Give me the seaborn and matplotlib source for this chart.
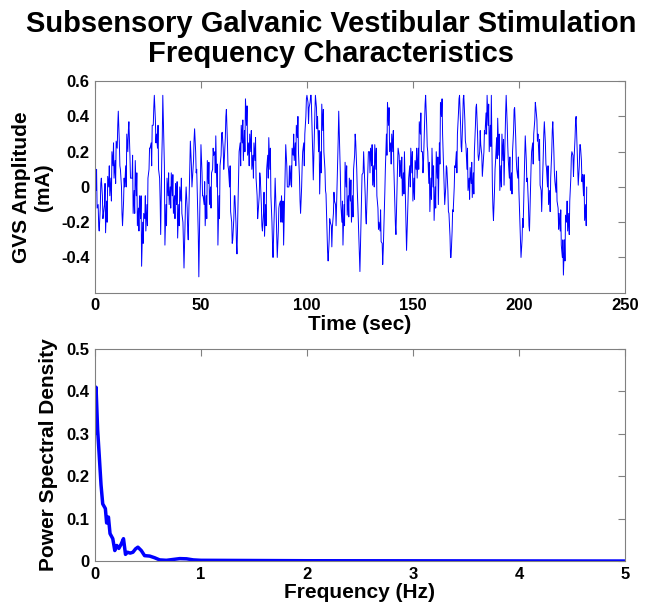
import numpy as np
import pandas as pd
import matplotlib
matplotlib.use("Agg")
import matplotlib.pyplot as plt
import seaborn as sns

# GVS signal: values on whole seconds (0..232 s)
gvs_mA = [
    0.08, -0.12, -0.25, 0.05, -0.15, -0.26, 0.06, -0.05, 0.20, 0.05,
    0.26, 0.43, 0.10, -0.22, 0.00, 0.30, 0.37, 0.05, -0.15, 0.15,
    -0.22, -0.05, -0.45, -0.15, -0.25, 0.05, 0.22, 0.35, 0.52, 0.30,
    0.10, -0.27, 0.52, -0.33, 0.05, -0.10, 0.08, -0.15, 0.02, -0.29,
    0.00, -0.15, -0.46, 0.00, -0.30, 0.26, 0.05, 0.33, 0.10, -0.51,
    0.24, -0.05, -0.22, 0.15, -0.10, 0.08, 0.18, 0.29, -0.33, 0.12,
    0.31, 0.15, 0.44, 0.10, -0.14, -0.30, -0.05, -0.38, 0.20, 0.35,
    0.15, 0.50, 0.18, 0.30, 0.10, 0.25, 0.05, -0.14, 0.05, -0.25,
    -0.28, 0.10, 0.28, -0.05, -0.40, 0.05, -0.40, -0.10, -0.05, -0.33,
    0.24, 0.00, 0.01, 0.22, 0.15, 0.35, 0.20, -0.15, 0.20, 0.30,
    0.52, 0.45, 0.52, 0.04, 0.52, 0.40, -0.04, 0.47, 0.20, -0.04,
    -0.42, -0.20, -0.23, -0.08, -0.10, 0.43, -0.10, -0.33, 0.14, -0.16,
    0.05, -0.20, 0.10, 0.26, -0.10, -0.48, 0.07, 0.12, -0.21, 0.20,
    0.22, 0.01, 0.24, -0.05, -0.20, -0.31, -0.36, 0.10, 0.48, 0.20,
    0.30, 0.11, -0.27, 0.22, 0.15, -0.05, 0.20, -0.36, 0.05, 0.22,
    -0.08, 0.15, 0.05, 0.37, 0.20, 0.14, 0.52, 0.20, -0.14, 0.22,
    -0.19, 0.20, -0.10, 0.48, 0.30, -0.10, 0.11, -0.15, -0.40, -0.14,
    0.11, 0.30, 0.52, 0.20, 0.52, 0.24, -0.02, 0.11, -0.06, 0.20,
    0.47, 0.15, 0.24, 0.11, 0.30, 0.52, 0.20, 0.52, -0.19, 0.15,
    0.39, -0.02, 0.30, 0.01, 0.52, 0.15, -0.02, 0.20, 0.45, 0.10,
    -0.02, -0.40, -0.23, 0.29, 0.05, -0.25, 0.20, 0.30, 0.45, 0.30,
    0.01, -0.04, 0.37, 0.11, -0.10, 0.05, 0.37, 0.03, -0.08, -0.15,
    -0.33, -0.50, -0.16, -0.25, -0.08, 0.20, 0.15, 0.40, 0.01, 0.24,
    0.07, -0.19, 0.00,
]
time_sec = list(range(len(gvs_mA)))

# band centre of the signal read on the half seconds (0.5..231.5 s)
gvs_half_mA = [
    -0.02, -0.10, -0.12, -0.05, -0.10, -0.08, 0.00, 0.05, 0.12, 0.15,
    0.22, 0.25, 0.00, -0.08, 0.12, 0.20, 0.18, 0.05, -0.02, -0.05,
    -0.12, -0.18, -0.20, -0.18, -0.10, 0.10, 0.25, 0.35, 0.38, 0.22,
    0.05, 0.15, 0.25, -0.10, -0.05, 0.00, -0.05, -0.05, -0.10, -0.10,
    -0.08, -0.20, -0.20, -0.12, 0.00, 0.12, 0.15, 0.20, -0.15, -0.10,
    0.08, -0.10, -0.05, 0.02, 0.00, 0.10, 0.20, 0.00, -0.05, 0.18,
    0.22, 0.28, 0.25, 0.00, -0.20, -0.18, -0.20, -0.10, 0.25, 0.25,
    0.32, 0.35, 0.25, 0.20, 0.18, 0.15, -0.05, -0.05, -0.10, -0.15,
    -0.10, 0.18, 0.10, -0.20, -0.20, -0.15, -0.25, -0.08, -0.20, -0.05,
    0.12, 0.00, 0.12, 0.18, 0.25, 0.28, 0.05, 0.00, 0.25, 0.40,
    0.48, 0.48, 0.30, 0.30, 0.45, 0.20, 0.20, 0.32, 0.10, -0.25,
    -0.30, -0.22, -0.15, -0.10, 0.15, 0.20, -0.20, -0.10, 0.00, -0.05,
    -0.08, -0.05, 0.18, 0.10, -0.30, -0.20, 0.08, -0.05, 0.00, 0.20,
    0.12, 0.12, 0.10, -0.12, -0.25, -0.32, -0.15, 0.30, 0.35, 0.25,
    0.20, -0.10, 0.00, 0.18, 0.05, 0.08, -0.10, -0.15, 0.12, 0.08,
    0.05, 0.10, 0.22, 0.30, 0.20, 0.35, 0.35, 0.02, 0.05, 0.00,
    0.00, 0.05, 0.25, 0.40, 0.10, 0.00, -0.02, -0.28, -0.25, 0.00,
    0.20, 0.42, 0.35, 0.38, 0.38, 0.10, 0.05, 0.02, 0.08, 0.35,
    0.30, 0.20, 0.18, 0.20, 0.42, 0.35, 0.35, 0.00, -0.02, 0.28,
    0.18, 0.12, 0.15, 0.30, 0.35, 0.05, 0.08, 0.32, 0.28, 0.05,
    -0.22, -0.30, 0.05, 0.15, -0.10, 0.00, 0.25, 0.38, 0.38, 0.15,
    -0.02, 0.18, 0.25, 0.00, -0.02, 0.20, 0.20, -0.03, -0.12, -0.25,
    -0.40, -0.30, -0.20, -0.15, 0.05, 0.18, 0.28, 0.20, 0.12, 0.15,
    -0.05, -0.10,
]
time_half_sec = [t + 0.5 for t in range(len(gvs_half_mA))]

# band edges of the fuzz read at three quarters of each second (0.75..231.75 s)
gvs_q3_mA = [
    0.10, -0.22, 0.02, -0.18, 0.02, -0.20, 0.12, -0.08, 0.25, 0.02,
    0.35, 0.12, -0.15, 0.05, 0.00, 0.32, 0.05, 0.18, -0.15, 0.08,
    -0.25, -0.05, -0.32, -0.05, -0.22, 0.22, 0.12, 0.45, 0.25, 0.35,
    -0.08, 0.28, 0.12, -0.22, 0.08, -0.12, 0.07, -0.18, 0.03, -0.22,
    0.05, -0.32, -0.08, -0.25, 0.12, 0.00, 0.27, 0.08, -0.28, 0.03,
    -0.05, 0.03, -0.18, 0.14, -0.12, 0.22, 0.08, 0.13, -0.18, 0.30,
    0.10, 0.40, 0.12, 0.12, -0.32, -0.05, -0.32, 0.03, 0.12, 0.38,
    0.20, 0.46, 0.12, 0.32, 0.05, 0.28, -0.18, 0.08, -0.22, -0.03,
    -0.22, 0.05, 0.22, -0.32, -0.08, -0.28, -0.12, -0.20, -0.08, 0.08,
    0.00, 0.12, 0.00, 0.30, 0.12, 0.40, -0.08, 0.12, 0.12, 0.50,
    0.36, 0.52, 0.18, 0.42, 0.33, 0.32, 0.08, 0.44, -0.02, -0.37,
    -0.18, -0.34, -0.03, -0.22, 0.27, 0.08, -0.08, -0.22, 0.12, -0.17,
    0.04, -0.17, 0.30, -0.02, -0.42, -0.08, 0.20, -0.17, 0.12, 0.08,
    0.24, 0.00, 0.22, -0.24, -0.13, -0.44, -0.03, 0.18, 0.45, 0.13,
    0.32, -0.22, 0.12, 0.06, 0.17, -0.04, -0.22, -0.03, 0.00, 0.20,
    -0.07, 0.22, 0.10, 0.42, 0.08, 0.47, 0.23, 0.14, -0.07, 0.12,
    -0.12, 0.17, 0.13, 0.50, -0.02, 0.12, -0.14, -0.40, -0.13, 0.12,
    0.08, 0.50, 0.23, 0.50, 0.26, 0.22, -0.07, 0.14, -0.04, 0.45,
    0.18, 0.32, 0.06, 0.32, 0.30, 0.47, 0.23, -0.12, 0.10, 0.16,
    0.30, 0.00, 0.27, 0.42, 0.23, 0.17, -0.04, 0.44, 0.16, 0.17,
    -0.34, -0.18, 0.17, 0.03, -0.22, 0.12, 0.13, 0.48, 0.26, 0.27,
    -0.14, 0.30, 0.13, 0.12, -0.14, 0.32, 0.08, 0.09, -0.24, -0.13,
    -0.30, -0.42, -0.08, -0.27, 0.17, 0.06, 0.38, 0.08, 0.24, 0.03,
    0.07, -0.22,
]
time_q3_sec = [t + 0.75 for t in range(len(gvs_q3_mA))]

# power spectral density
psd_freq = [0.0, 0.01, 0.025, 0.04, 0.057, 0.073, 0.098, 0.11, 0.127, 0.142,
            0.168, 0.187, 0.206, 0.225, 0.247, 0.269, 0.288, 0.307, 0.332, 0.358,
            0.383, 0.405, 0.437, 0.468, 0.516, 0.563, 0.61, 0.674, 0.737, 0.80,
            0.864, 0.927, 1.0, 1.5, 2.0, 3.0, 4.0, 5.0]
psd_val = [0.30, 0.41, 0.31, 0.25, 0.18, 0.135, 0.124, 0.09, 0.104, 0.065,
           0.053, 0.025, 0.037, 0.030, 0.040, 0.053, 0.016, 0.021, 0.019, 0.021,
           0.029, 0.033, 0.025, 0.013, 0.012, 0.008, 0.003, 0.002, 0.004, 0.006,
           0.0055, 0.003, 0.002, 0.0015, 0.001, 0.0008, 0.0005, 0.0003]

gvs_df = pd.concat([
    pd.DataFrame({"Time": time_sec, "GVS": gvs_mA}),
    pd.DataFrame({"Time": time_half_sec, "GVS": gvs_half_mA}),
    pd.DataFrame({"Time": time_q3_sec, "GVS": gvs_q3_mA}),
]).sort_values("Time").reset_index(drop=True)
psd_df = pd.DataFrame({"Freq": psd_freq, "PSD": psd_val})

sns.set_theme(style="white")
plt.rcParams["font.family"] = ["Liberation Sans", "DejaVu Sans"]
plt.rcParams["font.weight"] = "bold"
plt.rcParams["text.color"] = "black"
plt.rcParams["axes.labelcolor"] = "black"
plt.rcParams["xtick.labelcolor"] = "black"
plt.rcParams["ytick.labelcolor"] = "black"

fig = plt.figure(figsize=(6.55, 6.06), dpi=100)
ax1 = fig.add_axes([0.145, 0.517, 0.809, 0.349])
ax2 = fig.add_axes([0.145, 0.074, 0.809, 0.350])

#---------- top panel: time series ----------
sns.lineplot(data=gvs_df, x="Time", y="GVS", ax=ax1, color="#0000ff", linewidth=0.7)
ax1.set_xlim(0, 250)
ax1.set_ylim(-0.6, 0.6)
ax1.set_xticks([0, 50, 100, 150, 200, 250])
ax1.set_yticks([-0.4, -0.2, 0, 0.2, 0.4, 0.6])
ax1.set_yticklabels(["-0.4", "-0.2", "0", "0.2", "0.4", "0.6"])
ax1.set_xlabel("Time (sec)", fontsize=15, fontweight="bold", labelpad=1)
ax1.set_ylabel("GVS Amplitude\n(mA)", fontsize=15, fontweight="bold", labelpad=6)

#---------- bottom panel: PSD ----------
sns.lineplot(data=psd_df, x="Freq", y="PSD", ax=ax2, color="#0000ff", linewidth=2.5)
ax2.set_xlim(0, 5)
ax2.set_ylim(0, 0.5)
ax2.set_xticks([0, 1, 2, 3, 4, 5])
ax2.set_yticks([0, 0.1, 0.2, 0.3, 0.4, 0.5])
ax2.set_yticklabels(["0", "0.1", "0.2", "0.3", "0.4", "0.5"])
ax2.set_xlabel("Frequency (Hz)", fontsize=15, fontweight="bold", labelpad=1)
ax2.set_ylabel("Power Spectral Density", fontsize=15, fontweight="bold", labelpad=6)

for ax in (ax1, ax2):
    for sp in ax.spines.values():
        sp.set_color("#808080")
        sp.set_linewidth(0.8)
    ax.tick_params(direction="in", length=5, width=0.8, color="#808080",
                   top=True, right=True, labelsize=12, pad=4, labelcolor="black")
    for lab in ax.get_xticklabels() + ax.get_yticklabels():
        lab.set_fontweight("bold")

fig.text(0.505, 0.936, "Subsensory Galvanic Vestibular Stimulation\nFrequency Characteristics",
         ha="center", va="center", fontsize=21, fontweight="bold", linespacing=1.1,
         color="black")

fig.savefig("out.png", dpi=100)
